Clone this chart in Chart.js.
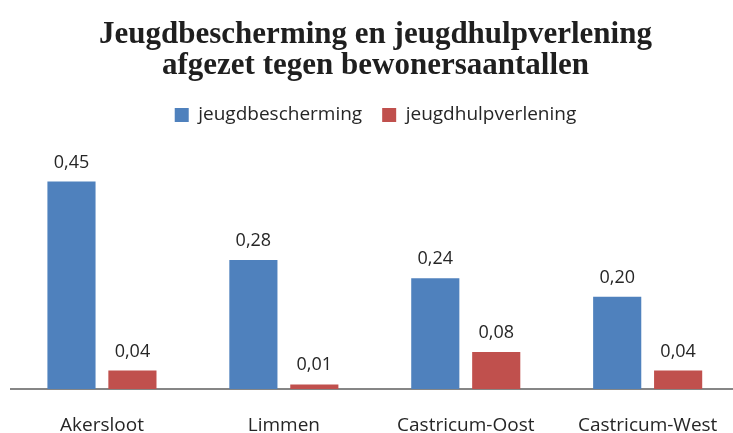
<!DOCTYPE html>
<html>
<head>
<meta charset="utf-8">
<script src="https://cdn.jsdelivr.net/npm/chart.js@4"></script>
<style>
  html, body { margin: 0; padding: 0; background: #fff; overflow: hidden; }
  #wrap { width: 745px; height: 433px; }
</style>
</head>
<body>
<div id="wrap"><canvas id="chart" width="745" height="433"></canvas></div>
<script>
// chart data
const categories = ['Akersloot', 'Limmen', 'Castricum-Oost', 'Castricum-West'];
const jeugdbescherming = [0.45, 0.28, 0.24, 0.20];
const jeugdhulpverlening = [0.04, 0.01, 0.08, 0.04];
const seriesNames = ['jeugdbescherming', 'jeugdhulpverlening'];
const titleLines = ['Jeugdbescherming en jeugdhulpverlening', 'afgezet tegen bewonersaantallen'];

const labelFont = "'Open Sans', 'Noto Sans', sans-serif";

// value labels above each bar, comma as decimal sign
const valueLabels = {
    id: 'valueLabels',
    afterDatasetsDraw(chart) {
        const ctx = chart.ctx;
        ctx.save();
        ctx.font = '18px ' + labelFont;
        ctx.fillStyle = '#262626';
        ctx.textAlign = 'center';
        ctx.textBaseline = 'alphabetic';
        chart.data.datasets.forEach((ds, i) => {
            chart.getDatasetMeta(i).data.forEach((bar, j) => {
                const txt = ds.data[j].toFixed(2).replace('.', ',');
                ctx.fillText(txt, bar.x, bar.y - 14);
            });
        });
        ctx.restore();
    }
};

new Chart(document.getElementById('chart').getContext('2d'), {
    type: 'bar',
    data: {
        labels: categories,
        datasets: [{
            label: seriesNames[0],
            data: jeugdbescherming,
            backgroundColor: '#4F81BD'
        }, {
            label: seriesNames[1],
            data: jeugdhulpverlening,
            backgroundColor: '#C0504D'
        }]
    },
    options: {
        responsive: false,
        animation: false,
        // the x axis reserves its tick padding twice, pull it back down
        layout: { padding: { left: 11, right: 5, top: 0, bottom: -29 } },
        datasets: {
            bar: { categoryPercentage: 0.67, barPercentage: 0.79 }
        },
        plugins: {
            title: {
                display: true,
                text: titleLines,
                color: '#1f1f1f',
                font: { family: "'Liberation Serif', 'Times New Roman', serif", size: 31, weight: 'bold', lineHeight: 1.0 },
                padding: { top: 19.5, bottom: 4 }
            },
            legend: {
                position: 'top',
                labels: {
                    color: '#262626',
                    font: { family: labelFont, size: 19 },
                    boxWidth: 14,
                    boxHeight: 14,
                    padding: 20
                }
            },
            tooltip: { enabled: false }
        },
        scales: {
            x: {
                grid: { display: false, drawTicks: false },
                border: { display: true, color: '#868686', width: 2 },
                ticks: { color: '#262626', font: { family: labelFont, size: 19, lineHeight: 1.0 }, padding: 27 }
            },
            y: {
                display: false,
                min: 0,
                max: 0.552
            }
        }
    },
    plugins: [valueLabels]
});
</script>
</body>
</html>
